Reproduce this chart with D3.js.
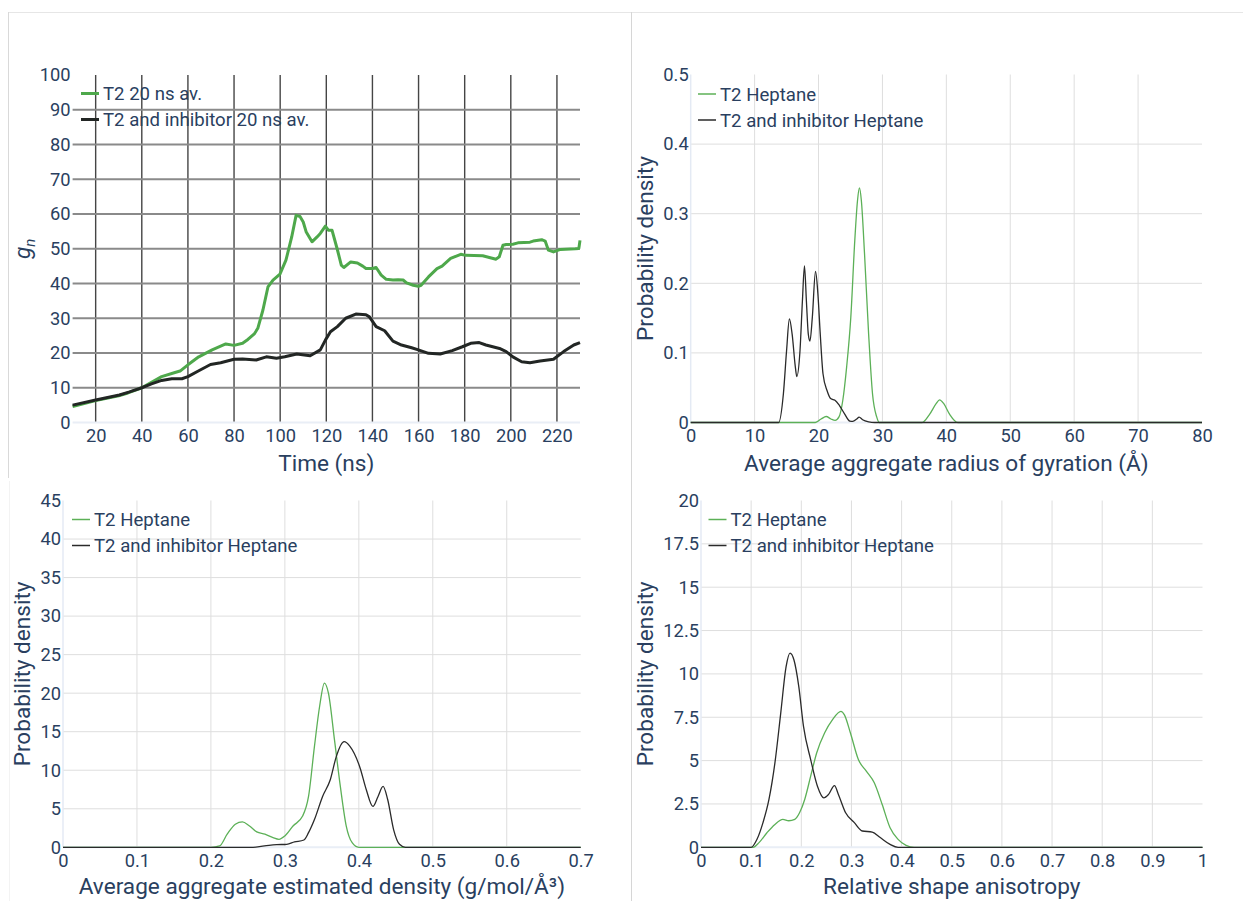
<!DOCTYPE html>
<html>
<head>
<meta charset="utf-8">
<script src="https://cdn.jsdelivr.net/npm/d3@7"></script>
<style>
  html, body { margin: 0; padding: 0; background: #fff; }
  svg { display: block; }
</style>
</head>
<body>
<svg id="chart" width="1243" height="901"></svg>
<script>
// ---------------- DATA ----------------
// Panel 1: g_n vs time (20 ns moving average)
const timeT2 = [10,20,30,34,40,48.6,54.4,56.6,60,64.7,70.5,76.4,80,83.7,86,88.9,90.3,92.5,94.7,96.9,99.9,102.5,105,106.9,108.6,110,111.3,113.8,116,117.4,119.6,121,122.5,124.7,126.5,127.6,130.6,133.5,135.8,137.2,140.1,141.6,143.8,146,148.9,151.1,153.3,154.8,157.7,159.9,161.1,164.3,168,170.2,173.9,178.3,180.4,187.8,190.7,193.6,195,196.6,198,200.9,203.1,208.3,209.7,213.4,214.9,216.3,218.5,221.5,228,229.5,230];
const gnT2 = [4.6,6.3,7.7,8.5,10,13.2,14.4,14.8,16.6,18.9,20.9,22.6,22.2,22.8,23.9,25.6,27.1,32.3,39,41,42.7,46.7,53.4,59.6,59.3,57.7,54.8,52,53.4,54.4,56.5,55.3,55.3,50,45.3,44.6,46.2,45.9,45,44.3,44.3,44.6,42.4,41.2,41,41.1,41,40.2,39.5,39.2,39.5,41.9,44.3,45,47.2,48.4,48.1,48,47.5,47,47.7,51,51.2,51.3,51.7,51.9,52.2,52.6,52.2,49.6,49.1,49.8,50,50.1,52.4];
const timeInh = [10,20,30.3,34.7,40,44.2,48.6,53,57.4,60,64.7,69.8,74.2,80,83.7,89.6,94,98.4,102,107.2,113,117.4,119.6,121.8,124.8,128.4,132.8,137.2,138.7,141.6,145.3,148.9,152.6,157,159.9,164.3,169.4,174.6,179,182.6,186.3,189.2,195.1,198,200.9,204.7,208.3,212.7,218.5,222.9,227.3,230];
const gnInh = [5,6.5,7.9,8.8,10,11.1,12.1,12.6,12.6,13.2,14.9,16.7,17.2,18.2,18.3,18,18.9,18.5,18.9,19.7,19.2,20.9,23.7,26.1,27.6,30,31.2,31,30.4,27.6,26.4,23.4,22.3,21.5,20.9,19.9,19.7,20.7,21.8,22.8,23,22.3,21.3,20.4,18.9,17.5,17.2,17.7,18.2,20.4,22.3,23];

// Panel 2: radius of gyration density
const rgX_T2 = [0,19.5,20.4,21.2,21.95,22.6,23.2,23.8,24.4,25.05,25.67,26.1,26.4,26.7,27.2,27.84,28.45,29.1,29.5,36.2,37.4,38.4,38.94,39.6,40.5,41.8,80];
const rgY_T2 = [0,0,0.005,0.0086,0.005,0.003,0.008,0.032,0.08,0.151,0.261,0.319,0.337,0.319,0.242,0.127,0.041,0.008,0,0,0.012,0.027,0.0326,0.027,0.012,0,0];
const rgX_Inh = [0,13.76,14.5,15.0,15.44,15.87,16.37,16.6,17.1,17.48,17.8,18.1,18.4,18.66,19.03,19.53,19.9,20.27,20.7,21.33,21.95,22.57,23.3,24.1,24.9,25.36,25.98,26.35,26.9,27.84,28.8,80];
const rgY_Inh = [0,0,0.041,0.103,0.149,0.127,0.080,0.066,0.103,0.175,0.225,0.175,0.127,0.117,0.151,0.217,0.185,0.127,0.070,0.046,0.034,0.032,0.024,0.012,0.002,0.0015,0.005,0.0077,0.004,0.001,0,0];

// Panel 3: estimated density
const denX_T2 = [0,0.2,0.2116,0.222,0.233,0.2426,0.2517,0.262,0.273,0.284,0.292,0.3,0.311,0.324,0.332,0.34,0.347,0.3535,0.3589,0.367,0.375,0.383,0.391,0.4,0.7];
const denY_T2 = [0,0,0.17,1.7,3.0,3.3,2.8,2.0,1.7,1.25,1.03,1.47,2.76,4.05,6.6,13.1,18.3,21.3,20,14,7.9,2.76,0.6,0,0];
const denX_Inh = [0,0.257,0.2785,0.289,0.3026,0.313,0.3257,0.332,0.34,0.351,0.3615,0.3696,0.38,0.388,0.4017,0.41,0.419,0.426,0.4328,0.439,0.447,0.455,0.463,0.7];
const denY_Inh = [0,0,0.26,0.34,0.39,0.69,0.95,1.9,3.6,6.6,8.8,11.8,13.7,13.1,10.3,7.5,5.3,6.6,7.9,6.2,2.3,0.39,0,0];

// Panel 4: relative shape anisotropy
const anX_T2 = [0,0.1038,0.1157,0.1315,0.1474,0.1632,0.175,0.187,0.1965,0.2068,0.2187,0.2306,0.2464,0.2623,0.279,0.286,0.298,0.3138,0.3296,0.3455,0.3613,0.377,0.393,0.4089,0.425,1];
const anY_T2 = [0,0,0.27,0.84,1.32,1.61,1.53,1.61,1.99,2.76,4.1,5.44,6.59,7.36,7.84,7.64,6.59,5.06,4.39,3.72,2.47,1.13,0.46,0.11,0,0];
const anX_Inh = [0,0.1,0.1117,0.1236,0.1355,0.1474,0.159,0.1696,0.1775,0.1854,0.195,0.2044,0.2187,0.2322,0.2448,0.2544,0.2662,0.274,0.2884,0.3058,0.3217,0.3415,0.3574,0.377,0.393,1];
const anY_Inh = [0,0,0.46,1.42,2.76,4.87,7.74,10.4,11.2,10.8,9.27,6.97,5.06,3.52,2.85,3.05,3.56,3.05,1.99,1.42,0.94,0.88,0.56,0.17,0,0];

// Tick labels
const xTicks1 = [20,40,60,80,100,120,140,160,180,200,220];
const yTicks1 = [0,10,20,30,40,50,60,70,80,90,100];
const xTicks2 = [0,10,20,30,40,50,60,70,80];
const yTicks2 = [0,0.1,0.2,0.3,0.4,0.5];
const xTicks3 = [0,0.1,0.2,0.3,0.4,0.5,0.6,0.7];
const yTicks3 = [0,5,10,15,20,25,30,35,40,45];
const xTicks4 = [0,0.1,0.2,0.3,0.4,0.5,0.6,0.7,0.8,0.9,1];
const yTicks4 = [0,2.5,5,7.5,10,12.5,15,17.5,20];

const seriesNames1 = ["T2 20 ns av.", "T2 and inhibitor 20 ns av."];
const seriesNames = ["T2 Heptane", "T2 and inhibitor Heptane"];

// ---------------- STYLE ----------------
const FONT = "Roboto, 'Liberation Sans', sans-serif";
const TXT = "#2a3f5f";
const svg = d3.select("#chart");

// panel frames
const frame = svg.append("g");
frame.append("line").attr("x1",8).attr("x2",1243).attr("y1",12.5).attr("y2",12.5).attr("stroke","#e6e6e6");
frame.append("line").attr("x1",8.5).attr("x2",8.5).attr("y1",12).attr("y2",478).attr("stroke","#d9d9d9");
frame.append("line").attr("x1",631.5).attr("x2",631.5).attr("y1",12).attr("y2",901).attr("stroke","#d6d6d6");
frame.append("line").attr("x1",9.5).attr("x2",9.5).attr("y1",481).attr("y2",901).attr("stroke","#f3f3f3");

function panel(cfg) {
  const g = svg.append("g");
  const x = d3.scaleLinear().domain(cfg.xDomain).range([cfg.left, cfg.right]);
  const y = d3.scaleLinear().domain(cfg.yDomain).range([cfg.bottom, cfg.top]);

  // grid
  const gx = g.append("g");
  gx.selectAll("line").data(cfg.xTicks.filter(v => v !== 0 && v !== cfg.xDomain[1]))
    .join("line")
    .attr("x1", d => x(d)).attr("x2", d => x(d))
    .attr("y1", cfg.top).attr("y2", cfg.bottom)
    .attr("stroke", cfg.vGridColor).attr("stroke-width", cfg.vGridWidth);
  const gy = g.append("g");
  gy.selectAll("line").data(cfg.yTicks.filter(v => v !== 0 && v !== cfg.yDomain[1]))
    .join("line")
    .attr("x1", cfg.left).attr("x2", cfg.right)
    .attr("y1", d => y(d)).attr("y2", d => y(d))
    .attr("stroke", cfg.hGridColor).attr("stroke-width", cfg.hGridWidth);
  // zero lines
  g.append("line").attr("x1", cfg.left).attr("x2", cfg.right)
    .attr("y1", y(0)).attr("y2", y(0))
    .attr("stroke", "#e9eef6").attr("stroke-width", 2);
  if (cfg.xDomain[0] === 0) {
    g.append("line").attr("x1", x(0)).attr("x2", x(0))
      .attr("y1", cfg.top).attr("y2", cfg.bottom)
      .attr("stroke", "#e4eaf4").attr("stroke-width", 1.5);
  }

  // series
  const line = d3.line().x(d => x(d[0])).y(d => y(d[1])).curve(cfg.curve);
  cfg.series.forEach(s => {
    const pts = s.xs.map((v, i) => [v, s.ys[i]]);
    g.append("path").datum(pts)
      .attr("d", line)
      .attr("fill", "none")
      .attr("stroke", s.color)
      .attr("stroke-width", cfg.lineWidth)
      .attr("stroke-linejoin", "round");
  });

  // axes
  const fmt = d => String(d);
  const ax = g.append("g").attr("transform", `translate(0,${cfg.bottom})`)
    .call(d3.axisBottom(x).tickValues(cfg.xTicks).tickFormat(fmt).tickSize(0).tickPadding(7));
  const ay = g.append("g").attr("transform", `translate(${cfg.left},0)`)
    .call(d3.axisLeft(y).tickValues(cfg.yTicks).tickFormat(fmt).tickSize(0).tickPadding(2));
  [ax, ay].forEach(a => {
    a.select(".domain").remove();
    a.selectAll("text").attr("font-family", FONT).attr("font-size", 18.3).attr("fill", TXT);
  });

  // axis titles
  g.append("text")
    .attr("x", (cfg.left + cfg.right) / 2).attr("y", cfg.bottom + cfg.xTitleOffset)
    .attr("text-anchor", "middle")
    .attr("font-family", FONT).attr("font-size", 22.6).attr("fill", TXT)
    .text(cfg.xTitle);
  const yt = g.append("text")
    .attr("transform", `translate(${cfg.yTitleX},${(cfg.top + cfg.bottom) / 2}) rotate(-90)`)
    .attr("text-anchor", "middle")
    .attr("font-family", FONT).attr("font-size", 22.6).attr("fill", TXT);
  if (cfg.yTitleSub) {
    yt.append("tspan").attr("font-style", "italic").text(cfg.yTitle);
    yt.append("tspan").attr("font-style", "italic").attr("font-size", 15).attr("dy", 5).text(cfg.yTitleSub);
  } else {
    yt.text(cfg.yTitle);
  }

  // legend
  const lg = g.append("g");
  cfg.series.forEach((s, i) => {
    const ly = cfg.top + cfg.legendDY + i * 26;
    lg.append("line")
      .attr("x1", cfg.left + cfg.legendDX).attr("x2", cfg.left + cfg.legendDX + 18)
      .attr("y1", ly).attr("y2", ly)
      .attr("stroke", s.color).attr("stroke-width", cfg.legendLineWidth);
    lg.append("text")
      .attr("x", cfg.left + cfg.legendDX + 22).attr("y", ly + 6.5)
      .attr("font-family", FONT).attr("font-size", 18.6).attr("fill", TXT)
      .text(s.name);
  });
}

const GREEN1 = "#4ea84b", BLACK1 = "#222624";
const GREEN = "#5cb057", BLACK = "#2a2a2a";

panel({
  left: 72.6, right: 580, top: 75, bottom: 422.5,
  xDomain: [10, 230], yDomain: [0, 100],
  xTicks: xTicks1, yTicks: yTicks1,
  vGridColor: "#454545", vGridWidth: 1.4, hGridColor: "#8a8a8a", hGridWidth: 2,
  curve: d3.curveLinear, lineWidth: 3, legendLineWidth: 3,
  series: [
    {xs: timeT2, ys: gnT2, color: GREEN1, name: seriesNames1[0]},
    {xs: timeInh, ys: gnInh, color: BLACK1, name: seriesNames1[1]}
  ],
  xTitle: "Time (ns)", xTitleOffset: 48,
  yTitle: "g", yTitleSub: "n", yTitleX: 30,
  legendDX: 8.4, legendDY: 18.5
});

panel({
  left: 690.7, right: 1202, top: 74.5, bottom: 422.5,
  xDomain: [0, 80], yDomain: [0, 0.5],
  xTicks: xTicks2, yTicks: yTicks2,
  vGridColor: "#dedede", vGridWidth: 1, hGridColor: "#dedede", hGridWidth: 1,
  curve: d3.curveMonotoneX, lineWidth: 1.3, legendLineWidth: 1.5,
  series: [
    {xs: rgX_T2, ys: rgY_T2, color: GREEN, name: seriesNames[0]},
    {xs: rgX_Inh, ys: rgY_Inh, color: BLACK, name: seriesNames[1]}
  ],
  xTitle: "Average aggregate radius of gyration (Å)", xTitleOffset: 48,
  yTitle: "Probability density", yTitleX: 653,
  legendDX: 7.3, legendDY: 19.5
});

panel({
  left: 63, right: 580.7, top: 500.5, bottom: 847.3,
  xDomain: [0, 0.7], yDomain: [0, 45],
  xTicks: xTicks3, yTicks: yTicks3,
  vGridColor: "#dedede", vGridWidth: 1, hGridColor: "#dedede", hGridWidth: 1,
  curve: d3.curveMonotoneX, lineWidth: 1.3, legendLineWidth: 1.5,
  series: [
    {xs: denX_T2, ys: denY_T2, color: GREEN, name: seriesNames[0]},
    {xs: denX_Inh, ys: denY_Inh, color: BLACK, name: seriesNames[1]}
  ],
  xTitle: "Average aggregate estimated density (g/mol/Å³)", xTitleOffset: 47,
  yTitle: "Probability density", yTitleX: 30,
  legendDX: 9, legendDY: 19
});

panel({
  left: 701, right: 1202.5, top: 500.5, bottom: 847.3,
  xDomain: [0, 1], yDomain: [0, 20],
  xTicks: xTicks4, yTicks: yTicks4,
  vGridColor: "#dedede", vGridWidth: 1, hGridColor: "#dedede", hGridWidth: 1,
  curve: d3.curveMonotoneX, lineWidth: 1.3, legendLineWidth: 1.5,
  series: [
    {xs: anX_T2, ys: anY_T2, color: GREEN, name: seriesNames[0]},
    {xs: anX_Inh, ys: anY_Inh, color: BLACK, name: seriesNames[1]}
  ],
  xTitle: "Relative shape anisotropy", xTitleOffset: 47,
  yTitle: "Probability density", yTitleX: 653,
  legendDX: 7.5, legendDY: 19
});
</script>
</body>
</html>
